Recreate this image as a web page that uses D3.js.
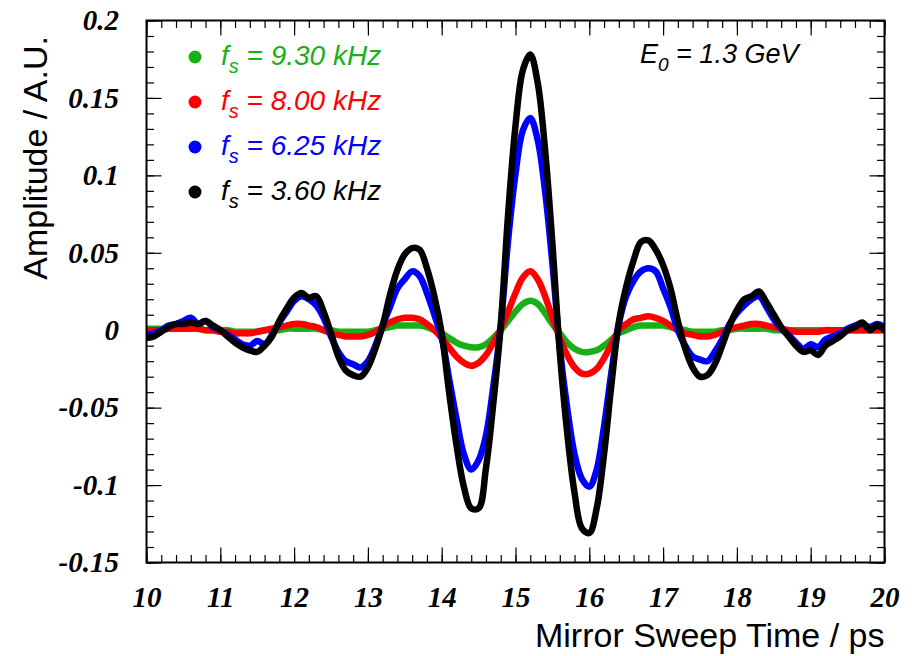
<!DOCTYPE html>
<html>
<head>
<meta charset="utf-8">
<script src="https://cdn.jsdelivr.net/npm/d3@7/dist/d3.min.js"></script>
<style>
  body { margin: 0; background: #fff; }
</style>
</head>
<body>
<script>
// sample times, 10 .. 20 ps in 0.1 ps steps
var times = d3.range(0, 101).map(function(i) { return Math.round((10 + i / 10) * 10) / 10; });

// amplitudes, in units of 0.001 A.U., one value per sample time
var amp930 = [
  1, 1, 1, 1, 1, 1, 1, 1, 0, 0,
  0, 0, -1, -1, -1, -1, 0, 0, 0, 1,
  1, 1, 1, 1, 0, 0, -1, -1, -1, -1,
  -1, 0, 1, 2, 3, 3, 3, 3, 2, 0,
  -2, -5, -8, -10, -11, -11, -9, -5, 0, 6,
  12, 17, 19, 17, 11, 4, -2, -8, -12, -14,
  -14, -13, -10, -6, -2, 0, 2, 3, 3, 3,
  3, 2, 1, 0, -1, -1, -1, -1, 0, 0,
  1, 1, 1, 1, 1, 0, 0, 0, 0, 0,
  0, 0, 0, 0, 0, 0, 0, 0, 0, 0, 0
];
var amp800 = [
  0, 0, 0, 1, 1, 1, 1, 1, 0, 0,
  -1, -1, -2, -2, -2, -1, 0, 1, 2, 3,
  4, 4, 3, 2, 0, -2, -3, -4, -4, -4,
  -3, -1, 2, 5, 7, 8, 8, 7, 4, 0,
  -5, -11, -17, -21, -23, -21, -16, -8, 1, 12,
  24, 34, 38, 33, 22, 8, -5, -16, -24, -28,
  -28, -25, -18, -9, 0, 4, 7, 8, 9, 8,
  6, 3, 0, -2, -3, -4, -4, -3, -1, 1,
  2, 3, 4, 4, 3, 2, 1, 0, -1, -1,
  -1, -1, 0, 0, 0, 0, 0, 0, 0, 0, 0
];
var amp625 = [
  -3, -2, 0, 3, 4, 6, 8, 4, 6, 2,
  0, -3, -6, -9, -10, -7, -9, -3, 5, 12,
  19, 22, 20, 16, 8, -4, -14, -20, -22, -24,
  -20, -10, 3, 15, 27, 33, 38, 35, 24, 10,
  -5, -31, -57, -80, -90, -84, -68, -36, 3, 58,
  101, 129, 137, 123, 90, 43, -11, -50, -80, -96,
  -101, -90, -62, -27, 4, 22, 32, 38, 40, 38,
  27, 15, 0, -10, -17, -19, -20, -14, -6, 4,
  11, 16, 20, 22, 15, 7, 1, -3, -8, -12,
  -9, -11, -6, -4, -2, 1, 3, 4, 2, 4, 2
];
var amp360 = [
  -5, -4, -1, 2, 4, 4, 5, 4, 6, 3,
  0, -4, -8, -11, -13, -14, -10, -4, 6, 14,
  21, 24, 21, 22, 12, -2, -17, -26, -29, -30,
  -24, -12, 3, 23, 39, 49, 53, 52, 40, 22,
  -2, -40, -74, -101, -115, -115, -89, -47, 3, 75,
  132, 168, 178, 160, 117, 56, -14, -66, -105, -128,
  -131, -115, -80, -35, 5, 28, 45, 57, 58, 52,
  42, 27, 6, -12, -24, -30, -29, -22, -10, 3,
  13, 20, 22, 25, 18, 10, 2, -4, -10, -14,
  -13, -16, -10, -7, -4, 0, 2, 5, 0, 3, 0
];

var freqLabels = ["9.30", "8.00", "6.25", "3.60"];
var colors = ["#17b117", "#ff0000", "#0000ff", "#000000"];
var allAmps = [amp930, amp800, amp625, amp360];

var xMajor = d3.range(10, 20.001, 1);
var xMinor = d3.range(0, 51).map(function(i) { return 10 + i * 0.2; });
var yMajor = [-0.15, -0.1, -0.05, 0, 0.05, 0.1, 0.15, 0.2];
var yMinor = d3.range(0, 36).map(function(i) { return -0.15 + i * 0.01; });

(function() {
  var width = 914, height = 656;
  var pLeft = 146.5, pRight = 884.5, pTop = 20.5, pBottom = 562.5;

  var svg = d3.select("body").append("svg")
      .attr("width", width)
      .attr("height", height);

  var x = d3.scaleLinear().domain([10, 20]).range([pLeft, pRight]);
  var y = d3.scaleLinear().domain([-0.15, 0.2]).range([pBottom, pTop]);

  var tickFont = "'Liberation Serif', 'Times New Roman', serif";
  var textFont = "'Liberation Sans', Arial, Helvetica, sans-serif";

  function fmt(d) { return String(+d.toFixed(2)); }

  // ticks on all four sides, pointing inwards
  function ticks(axis, tr, vals, size, labels, pad) {
    var g = svg.append("g").attr("transform", tr);
    g.call(axis.tickValues(vals).tickSize(-size).tickSizeOuter(0)
        .tickPadding(pad || 0).tickFormat(labels ? fmt : ""));
    g.select(".domain").remove();
    g.selectAll("line").attr("stroke", "#000").attr("stroke-width", 1.2);
    g.attr("font-family", tickFont).attr("font-size", 29)
     .attr("font-weight", "bold").attr("font-style", "italic");
    g.selectAll("text").attr("fill", "#000");
    return g;
  }

  ticks(d3.axisBottom(x), "translate(0," + pBottom + ")", xMinor, 7.5);
  ticks(d3.axisBottom(x), "translate(0," + pBottom + ")", xMajor, 15, true, 24);
  ticks(d3.axisTop(x), "translate(0," + pTop + ")", xMinor, 7.5);
  ticks(d3.axisTop(x), "translate(0," + pTop + ")", xMajor, 15);
  ticks(d3.axisLeft(y), "translate(" + pLeft + ",0)", yMinor, 7.5);
  ticks(d3.axisLeft(y), "translate(" + pLeft + ",0)", yMajor, 15, true, 27.5);
  ticks(d3.axisRight(y), "translate(" + pRight + ",0)", yMinor, 7.5);
  ticks(d3.axisRight(y), "translate(" + pRight + ",0)", yMajor, 15);

  // curves
  var line = d3.line()
      .x(function(d, i) { return x(times[i]); })
      .y(function(d) { return y(d / 1000); })
      .curve(d3.curveCatmullRom.alpha(0.5));

  svg.append("defs").append("clipPath").attr("id", "plotclip")
    .append("rect").attr("x", pLeft).attr("y", pTop)
    .attr("width", pRight - pLeft).attr("height", pBottom - pTop);

  svg.append("g").attr("clip-path", "url(#plotclip)")
    .selectAll("path")
    .data(allAmps)
    .enter().append("path")
      .attr("d", line)
      .attr("fill", "none")
      .attr("stroke", function(d, i) { return colors[i]; })
      .attr("stroke-width", 6.5)
      .attr("stroke-linejoin", "round")
      .attr("stroke-linecap", "round");

  // frame
  svg.append("rect")
      .attr("x", pLeft).attr("y", pTop)
      .attr("width", pRight - pLeft).attr("height", pBottom - pTop)
      .attr("fill", "none").attr("stroke", "#000").attr("stroke-width", 2);

  // legend
  var leg = svg.append("g").selectAll("g")
      .data(freqLabels)
      .enter().append("g")
      .attr("transform", function(d, i) { return "translate(0," + (57 + i * 45) + ")"; });

  leg.append("circle")
      .attr("cx", 195).attr("cy", 0).attr("r", 6.5)
      .attr("fill", function(d, i) { return colors[i]; });

  var lt = leg.append("text")
      .attr("x", 221).attr("y", 8)
      .attr("font-family", textFont).attr("font-style", "italic")
      .attr("font-size", 28)
      .attr("fill", function(d, i) { return colors[i]; });
  lt.append("tspan").text("f");
  lt.append("tspan").attr("font-size", 20).attr("dy", 8).text("s");
  lt.append("tspan").attr("dy", -8).text(function(d) { return " = " + d + " kHz"; });

  // beam energy
  var et = svg.append("text")
      .attr("x", 640).attr("y", 63)
      .attr("font-family", textFont).attr("font-style", "italic")
      .attr("font-size", 27).attr("fill", "#000");
  et.append("tspan").text("E");
  et.append("tspan").attr("font-size", 19).attr("dy", 8).text("0");
  et.append("tspan").attr("dy", -8).text(" = 1.3 GeV");

  // axis titles
  svg.append("text")
      .attr("x", pRight).attr("y", 647)
      .attr("text-anchor", "end")
      .attr("font-family", textFont).attr("font-size", 34)
      .text("Mirror Sweep Time / ps");

  svg.append("text")
      .attr("transform", "translate(47,36) rotate(-90)")
      .attr("text-anchor", "end")
      .attr("font-family", textFont).attr("font-size", 34)
      .text("Amplitude / A.U.");
})();
</script>
</body>
</html>
